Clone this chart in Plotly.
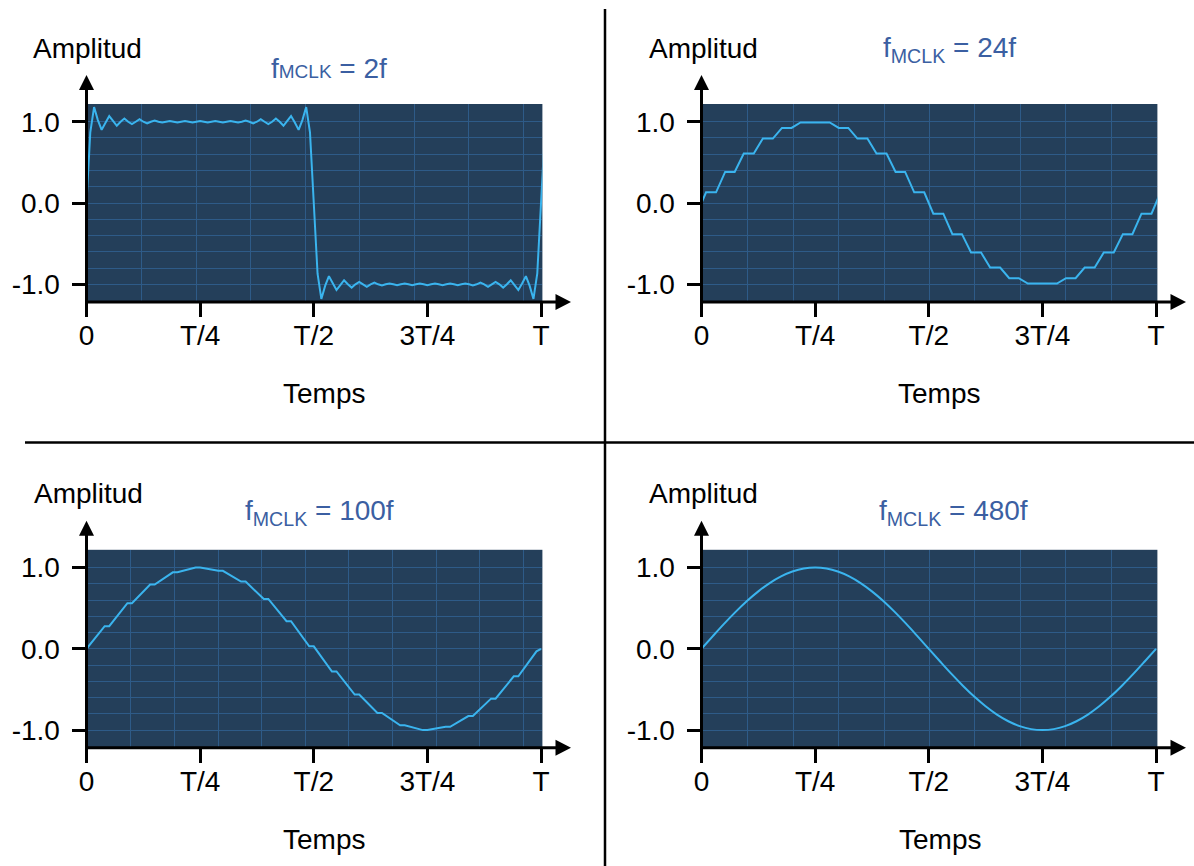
import plotly.graph_objects as go

W, H = 1194, 866
FONT = "Liberation Sans, Arial, Helvetica, sans-serif"

# ---------------- data ----------------
tick_vals = [0, 0.25, 0.5, 0.75, 1.0]
tick_text = ["0", "T/4", "T/2", "3T/4", "T"]
amp_vals = [-1.0, 0.0, 1.0]
amp_text = ["-1.0", "0.0", "1.0"]
titles = ["f<span style='font-size:19px'>MCLK</span> = 2f",
          "f<sub>MCLK</sub> = 24f",
          "f<sub>MCLK</sub> = 100f",
          "f<sub>MCLK</sub> = 480f"]

# f_MCLK = 2f : square wave with ringing, 120 samples per period
amp_2f = [0.00, 0.87, 1.18, 1.02, 0.90, 0.99, 1.07, 1.01, 0.95, 1.00,
          1.04, 1.00, 0.97, 1.00, 1.03, 1.00, 0.98, 1.00, 1.015, 1.00,
          0.99, 1.00, 1.01, 1.00, 0.99, 1.00, 1.01, 1.00, 0.99, 1.00,
          1.01, 1.00, 0.99, 1.00, 1.01, 1.00, 0.99, 1.00, 1.01, 1.00,
          0.99, 1.00, 1.015, 1.00, 0.98, 1.00, 1.03, 1.00, 0.97, 1.00,
          1.04, 1.00, 0.95, 1.01, 1.07, 0.99, 0.90, 1.02, 1.18, 0.87,
          0.00,
          -0.87, -1.18, -1.02, -0.90, -0.99, -1.07, -1.01, -0.95, -1.00,
          -1.04, -1.00, -0.97, -1.00, -1.03, -1.00, -0.98, -1.00, -1.015, -1.00,
          -0.99, -1.00, -1.01, -1.00, -0.99, -1.00, -1.01, -1.00, -0.99, -1.00,
          -1.01, -1.00, -0.99, -1.00, -1.01, -1.00, -0.99, -1.00, -1.01, -1.00,
          -0.99, -1.00, -1.015, -1.00, -0.98, -1.00, -1.03, -1.00, -0.97, -1.00,
          -1.04, -1.00, -0.95, -1.01, -1.07, -0.99, -0.90, -1.02, -1.18, -0.87,
          0.00, 0.87]
time_2f = [n / 120 for n in range(len(amp_2f))]

# f_MCLK = 24f : staircase
time_24f = [0.000, 0.010, 0.032, 0.052, 0.073, 0.093, 0.115, 0.135, 0.157, 0.177,
            0.198, 0.218, 0.282, 0.302, 0.323, 0.343, 0.365, 0.385, 0.407, 0.427,
            0.448, 0.468, 0.490, 0.510, 0.532, 0.552, 0.573, 0.593, 0.615, 0.635,
            0.657, 0.677, 0.698, 0.718, 0.782, 0.802, 0.823, 0.843, 0.865, 0.885,
            0.907, 0.927, 0.948, 0.968, 0.990, 1.010]
amp_24f = [0.000, 0.131, 0.131, 0.383, 0.383, 0.609, 0.609, 0.793, 0.793, 0.924,
           0.924, 0.991, 0.991, 0.924, 0.924, 0.793, 0.793, 0.609, 0.609, 0.383,
           0.383, 0.131, 0.131, -0.131, -0.131, -0.383, -0.383, -0.609, -0.609, -0.793,
           -0.793, -0.924, -0.924, -0.991, -0.991, -0.924, -0.924, -0.793, -0.793, -0.609,
           -0.609, -0.383, -0.383, -0.131, -0.131, 0.131]

# f_MCLK = 100f : sine with small kinks
time_100f = [0.000, 0.040, 0.050, 0.090, 0.100, 0.140, 0.150, 0.190, 0.200, 0.240,
             0.250, 0.290, 0.300, 0.340, 0.350, 0.390, 0.400, 0.440, 0.450, 0.490,
             0.500, 0.540, 0.550, 0.590, 0.600, 0.640, 0.650, 0.690, 0.700, 0.740,
             0.750, 0.790, 0.800, 0.840, 0.850, 0.890, 0.900, 0.940, 0.950, 0.990,
             1.000]
amp_100f = [0.000, 0.279, 0.279, 0.562, 0.562, 0.790, 0.790, 0.941, 0.941, 1.000,
            1.000, 0.960, 0.960, 0.827, 0.827, 0.613, 0.613, 0.339, 0.339, 0.031,
            0.031, -0.279, -0.279, -0.562, -0.562, -0.790, -0.790, -0.941, -0.941, -1.000,
            -1.000, -0.960, -0.960, -0.827, -0.827, -0.613, -0.613, -0.339, -0.339, -0.031,
            0.000]

# f_MCLK = 480f : smooth sine
time_480f = [0.000, 0.025, 0.050, 0.075, 0.100, 0.125, 0.150, 0.175, 0.200, 0.225,
             0.250, 0.275, 0.300, 0.325, 0.350, 0.375, 0.400, 0.425, 0.450, 0.475,
             0.500, 0.525, 0.550, 0.575, 0.600, 0.625, 0.650, 0.675, 0.700, 0.725,
             0.750, 0.775, 0.800, 0.825, 0.850, 0.875, 0.900, 0.925, 0.950, 0.975,
             1.000]
amp_480f = [0.000, 0.156, 0.309, 0.454, 0.588, 0.707, 0.809, 0.891, 0.951, 0.988,
            1.000, 0.988, 0.951, 0.891, 0.809, 0.707, 0.588, 0.454, 0.309, 0.156,
            0.000, -0.156, -0.309, -0.454, -0.588, -0.707, -0.809, -0.891, -0.951, -0.988,
            -1.000, -0.988, -0.951, -0.891, -0.809, -0.707, -0.588, -0.454, -0.309, -0.156,
            0.000]

series = [(time_2f, amp_2f, "linear"), (time_24f, amp_24f, "linear"),
          (time_100f, amp_100f, "linear"), (time_480f, amp_480f, "spline")]

# ---------------- styling / geometry (pixels) ----------------
BG = "#243f5a"
GRID = "#2e5b88"
LINE = "#3ab4ee"
TITLE_C = "#3b5fa2"
X_RANGE = [0, 1.003]
Y_RANGE = [-1.214, 1.218]
PW = 455.9
PH = 197.7
panels = [
    dict(x0=86.5, top=104.0, step=0.12, amp=(87, 48.5), title=(329, 68.5), temps=(324, 393)),
    dict(x0=701.5, top=104.0, step=0.10, amp=(703, 48.5), title=(949, 50), temps=(939, 393)),
    dict(x0=86.5, top=549.8, step=0.096, amp=(88, 494), title=(319, 512), temps=(324, 839.5)),
    dict(x0=701.5, top=549.8, step=0.10, amp=(703, 494), title=(953, 512), temps=(940, 839.5)),
]


def px(x):
    return x / W


def py(y):
    return 1 - y / H


fig = go.Figure()
shapes = []
annotations = []
for i, (p, (tx, ty, shp)) in enumerate(zip(panels, series)):
    k = "" if i == 0 else str(i + 1)
    fig.add_trace(go.Scatter(x=tx, y=ty, mode="lines",
                             line=dict(color=LINE, width=2, shape=shp),
                             xaxis="x" + k, yaxis="y" + k, showlegend=False,
                             hoverinfo="skip"))
    x0, x1 = p["x0"], p["x0"] + PW
    top, bot = p["top"], p["top"] + PH
    nsteps = int(1.0 / p["step"]) + 1
    fig.update_layout(**{
        "xaxis" + k: dict(domain=[px(x0), px(x1)], range=X_RANGE, anchor="y" + k,
                          tickmode="array", tickvals=tick_vals, ticktext=tick_text,
                          ticks="outside", ticklen=14, tickwidth=3, tickcolor="black",
                          showline=False, zeroline=False, showgrid=False,
                          tickfont=dict(family=FONT, size=28, color="black"),
                          ticklabelstandoff=-5, automargin=False,
                          minor=dict(tickmode="array",
                                     tickvals=[j * p["step"] + 0.0015 for j in range(1, nsteps)],
                                     showgrid=True, gridcolor=GRID, gridwidth=1, ticks=""),
                          fixedrange=True),
        "yaxis" + k: dict(domain=[py(bot), py(top)], range=Y_RANGE, anchor="x" + k,
                          tickmode="array", tickvals=amp_vals, ticktext=amp_text,
                          ticks="outside", ticklen=14, tickwidth=3, tickcolor="black",
                          showline=False, zeroline=False, showgrid=True,
                          gridcolor=GRID, gridwidth=1,
                          tickfont=dict(family=FONT, size=28, color="black"),
                          ticklabelstandoff=6, automargin=False,
                          minor=dict(tickmode="array",
                                     tickvals=[-0.8, -0.6, -0.4, -0.2, 0.2, 0.4, 0.6, 0.8],
                                     showgrid=True, gridcolor=GRID, gridwidth=1, ticks=""),
                          fixedrange=True),
    })
    # axis lines with arrow heads
    ax_y = bot + 0.3
    shapes.append(dict(type="line", xref="paper", yref="paper",
                       x0=px(x0), x1=px(x0), y0=py(bot + 1.5), y1=py(top - 16),
                       line=dict(color="black", width=3)))
    shapes.append(dict(type="path", xref="paper", yref="paper",
                       path=f"M {px(x0 - 7.5)},{py(top - 14)} L {px(x0)},{py(top - 29)} "
                            f"L {px(x0 + 7.5)},{py(top - 14)} Z",
                       fillcolor="black", line=dict(color="black", width=0)))
    shapes.append(dict(type="line", xref="paper", yref="paper",
                       x0=px(x0 - 1.5), x1=px(x0 + 470), y0=py(ax_y), y1=py(ax_y),
                       line=dict(color="black", width=3)))
    shapes.append(dict(type="path", xref="paper", yref="paper",
                       path=f"M {px(x0 + 469)},{py(ax_y - 8)} L {px(x0 + 484.5)},{py(ax_y)} "
                            f"L {px(x0 + 469)},{py(ax_y + 8)} Z",
                       fillcolor="black", line=dict(color="black", width=0)))
    # texts
    annotations.append(dict(text="Amplitud", x=px(p["amp"][0]), y=py(p["amp"][1]),
                            xref="paper", yref="paper", xanchor="center", yanchor="middle",
                            showarrow=False, font=dict(family=FONT, size=28, color="black")))
    annotations.append(dict(text=titles[i], x=px(p["title"][0]), y=py(p["title"][1]),
                            xref="paper", yref="paper", xanchor="center", yanchor="middle",
                            showarrow=False, font=dict(family=FONT, size=28, color=TITLE_C)))
    annotations.append(dict(text="Temps", x=px(p["temps"][0]), y=py(p["temps"][1]),
                            xref="paper", yref="paper", xanchor="center", yanchor="middle",
                            showarrow=False, font=dict(family=FONT, size=28, color="black")))

# panel dividers
shapes.append(dict(type="line", xref="paper", yref="paper", x0=px(605), x1=px(605),
                   y0=py(9), y1=py(866), line=dict(color="black", width=2.5)))
shapes.append(dict(type="line", xref="paper", yref="paper", x0=px(25), x1=px(1194),
                   y0=py(442.5), y1=py(442.5), line=dict(color="black", width=2.5)))

fig.update_layout(width=W, height=H, margin=dict(l=0, r=0, t=0, b=0, autoexpand=False),
                  autosize=False,
                  paper_bgcolor="white", plot_bgcolor=BG,
                  shapes=shapes, annotations=annotations, showlegend=False,
                  font=dict(family=FONT))

fig.write_html("out.html", config={"displayModeBar": False, "responsive": False},
               post_script="document.body.style.margin='0px';"
                           "document.documentElement.style.overflow='hidden';"
                           "document.body.style.overflow='hidden';")
